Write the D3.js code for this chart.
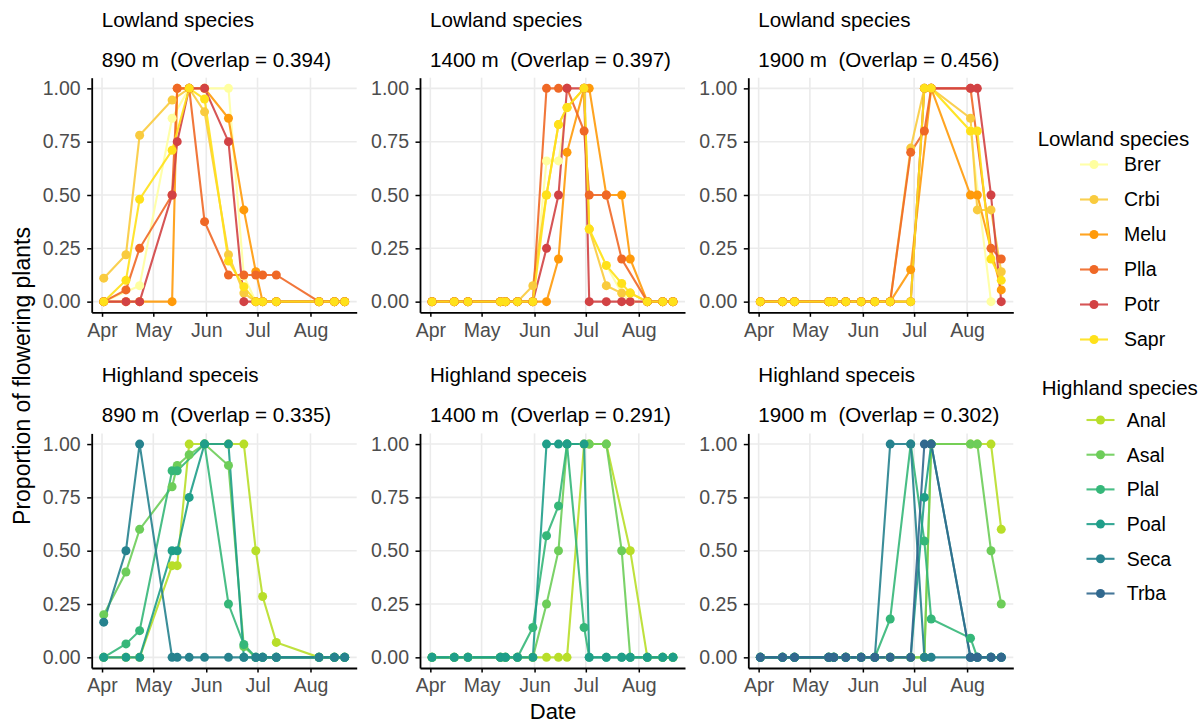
<!DOCTYPE html>
<html>
<head>
<meta charset="utf-8">
<script src="https://cdn.jsdelivr.net/npm/d3@7"></script>
<style>
  body { margin: 0; background: #fff; }
  svg { font-family: "Liberation Sans", Arial, sans-serif; }
</style>
</head>
<body>
<div id="chart"></div>
<script>
// Sampling dates per elevation (month-day)
const year = 2020;
const dates890 = ['04-02', '04-15', '04-23', '05-12', '05-15', '05-22', '05-31', '06-14', '06-23', '06-30', '07-04', '07-12', '08-06', '08-15', '08-21'];
const dates1400 = ['04-02', '04-15', '04-23', '05-12', '05-15', '05-22', '05-31', '06-08', '06-15', '06-20', '06-30', '07-03', '07-13', '07-22', '07-27', '08-06', '08-15', '08-21'];
const dates1900 = ['04-02', '04-15', '04-22', '05-12', '05-15', '05-22', '05-31', '06-08', '06-17', '06-29', '07-07', '07-11', '08-03', '08-07', '08-15', '08-21'];

const lowSpecies = ['Brer', 'Crbi', 'Melu', 'Plla', 'Potr', 'Sapr'];
const lowColors = ['#FFFFA0', '#F9CB3E', '#FF9A0A', '#EF6826', '#D24244', '#FFE11A'];
const highSpecies = ['Anal', 'Asal', 'Plal', 'Poal', 'Seca', 'Trba'];
const highColors = ['#B8DE29', '#6DCD59', '#35B779', '#1F9E89', '#26828E', '#31688E'];

// Proportion of flowering plants, aligned with the dates above (null = not sampled)
const low890 = {
  Brer: [0, null, 0.075, 0.86, null, 1, 1, 1, 0.12, 0, 0, 0, 0, 0, 0],
  Crbi: [0.11, 0.22, 0.78, 0.945, null, 1, 0.89, 0.22, 0.04, 0, 0, 0, 0, 0, 0],
  Melu: [0, 0, 0, 0, 1, 1, 1, 0.86, 0.43, 0.14, 0, 0, 0, 0, 0],
  Plla: [0, 0.055, 0.25, 0.5, 1, 1, 0.375, 0.125, 0.125, 0.125, 0.125, 0.125, 0, 0, 0],
  Potr: [0, 0, 0, 0.5, 0.75, 1, 1, 0.75, 0, 0, 0, 0, 0, 0, 0],
  Sapr: [0, 0.1, 0.48, 0.71, null, 1, 0.95, 0.19, 0.07, 0, 0, 0, 0, 0, 0]
};
const low1400 = {
  Brer: [0, 0, 0, 0, 0, 0, 0, 0.66, 0.66, 0.91, 1, 0.34, 0.17, 0.04, 0, 0, 0, 0],
  Crbi: [0, 0, 0, 0, 0, 0, 0.075, 0.5, 0.83, 0.91, 1, 0.34, 0.075, 0.04, 0.04, 0, 0, 0],
  Melu: [0, 0, 0, 0, 0, 0, 0, 0, 0.2, 0.7, 1, 1, 0.5, 0.5, 0.2, 0, 0, 0],
  Plla: [0, 0, 0, 0, 0, 0, 0, 1, 1, 1, 0.8, 0.5, 0.5, 0.2, null, 0, 0, 0],
  Potr: [0, 0, 0, 0, 0, 0, 0, 0.25, 0.5, 1, 1, 0, 0, 0, 0, 0, 0, 0],
  Sapr: [0, 0, 0, 0, 0, 0, 0, 0.5, 0.83, 0.91, 1, 0.34, 0.17, 0.085, 0.04, 0, 0, 0]
};
const low1900 = {
  Brer: [0, 0, 0, 0, 0, 0, 0, 0, 0, 0, 1, 1, 0.8, null, 0, null],
  Crbi: [0, 0, 0, 0, 0, 0, 0, 0, 0, 0.72, 1, 1, 0.86, 0.43, 0.43, 0.14],
  Melu: [0, 0, 0, 0, 0, 0, 0, 0, 0, 0.15, null, 1, 0.5, 0.5, null, 0.055],
  Plla: [0, 0, 0, 0, 0, 0, 0, 0, 0, 0.7, 0.8, 1, 1, null, 0.25, 0.2],
  Potr: [0, 0, 0, 0, 0, 0, 0, 0, 0, 0, 1, 1, 1, 1, 0.5, 0],
  Sapr: [0, 0, 0, 0, 0, 0, 0, 0, 0, 0, 1, 1, 0.8, 0.8, 0.2, 0.1]
};
const high890 = {
  Anal: [0, 0, 0, 0.43, 0.43, 1, 1, 1, 1, 0.5, 0.285, 0.07, 0, 0, 0],
  Asal: [0.2, 0.4, 0.6, 0.8, 0.9, 0.95, 1, 0.9, 0.05, 0, 0, 0, 0, 0, 0],
  Plal: [0, 0.063, 0.125, 0.875, 0.875, null, 1, 0.25, 0.06, 0, 0, 0, 0, 0, 0],
  Poal: [0, 0, 0, 0.5, 0.5, 0.75, 1, 1, 0, 0, 0, 0, 0, 0, 0],
  Seca: [0.165, 0.5, 1, 0, 0, 0, 0, 0, 0, 0, 0, 0, 0, 0, 0]
};
const high1400 = {
  Anal: [0, 0, 0, 0, 0, 0, 0, 0, 0, 0, 1, 1, 1, null, 0.5, 0, 0, 0],
  Asal: [0, 0, 0, 0, 0, 0, 0, 0.25, 0.5, 1, null, 1, 1, 0.5, 0, 0, 0, 0],
  Plal: [0, 0, 0, 0, 0, 0, 0.14, 0.57, 0.71, 1, 0.14, 0, 0, 0, 0, 0, 0, 0],
  Poal: [0, 0, 0, 0, 0, 0, 0, 1, 1, 1, 1, 0, 0, 0, 0, 0, 0, 0]
};
const high1900 = {
  Anal: [0, 0, 0, 0, 0, 0, 0, 0, 0, 0, 0, 1, 1, 1, 1, 0.6],
  Asal: [0, 0, 0, 0, 0, 0, 0, 0, 0, 0, 0, 1, 1, 1, 0.5, 0.25],
  Plal: [0, 0, 0, 0, 0, 0, 0, 0, 0.18, 1, 0.545, 0.18, 0.09, 0, 0, 0],
  Poal: [0, 0, 0, 0, 0, 0, 0, 0, 0, 0, 0.75, 1, 0, 0, 0, 0],
  Seca: [0, 0, 0, 0, 0, 0, 0, 0, 1, 1, 0, 0, 0, 0, 0, 0],
  Trba: [0, 0, 0, 0, 0, 0, 0, 0, 0, 0, 1, 1, 0, 0, 0, 0]
};

const panels = [
  { row: 0, col: 0, title: 'Lowland species', sub: '890 m  (Overlap = 0.394)', dates: dates890, series: low890, species: lowSpecies, colors: lowColors },
  { row: 0, col: 1, title: 'Lowland species', sub: '1400 m  (Overlap = 0.397)', dates: dates1400, series: low1400, species: lowSpecies, colors: lowColors },
  { row: 0, col: 2, title: 'Lowland species', sub: '1900 m  (Overlap = 0.456)', dates: dates1900, series: low1900, species: lowSpecies, colors: lowColors },
  { row: 1, col: 0, title: 'Highland speceis', sub: '890 m  (Overlap = 0.335)', dates: dates890, series: high890, species: highSpecies, colors: highColors },
  { row: 1, col: 1, title: 'Highland speceis', sub: '1400 m  (Overlap = 0.291)', dates: dates1400, series: high1400, species: highSpecies, colors: highColors },
  { row: 1, col: 2, title: 'Highland speceis', sub: '1900 m  (Overlap = 0.302)', dates: dates1900, series: high1900, species: highSpecies, colors: highColors }
];

// Layout
const width = 1204;
const height = 726;
const panelLeft = [91.7, 420, 748.3];
const panelTop = [77.7, 433.4];
const panelW = 265;
const panelH = 234.6;

const parseDate = d3.timeParse('%Y-%m-%d');
const toDate = (s) => parseDate(`${year}-${s}`);

// Shared scales (ggplot-style 5% expansion)
const allDates = [...dates890, ...dates1400, ...dates1900].map(toDate);
const [minD, maxD] = d3.extent(allDates);
const pad = (maxD - minD) * 0.05;
const x = d3.scaleTime()
  .domain([new Date(+minD - pad), new Date(+maxD + pad)])
  .range([0, panelW]);
const y = d3.scaleLinear()
  .domain([-0.05, 1.05])
  .range([panelH, 0]);
const monthTicks = d3.timeMonth.range(new Date(year, 3, 1), new Date(year, 8, 1));
const yTicks = [0, 0.25, 0.5, 0.75, 1];

const svg = d3.select('#chart')
  .append('svg')
  .attr('width', width)
  .attr('height', height);

svg.append('rect')
  .attr('width', width)
  .attr('height', height)
  .attr('fill', '#fff');

const drawPanel = (p) => {
  const left = panelLeft[p.col];
  const top = panelTop[p.row];
  const g = svg.append('g').attr('transform', `translate(${left},${top})`);

  // Titles
  svg.append('text')
    .attr('x', left + 10)
    .attr('y', top - 51)
    .style('font-size', '20.6px')
    .attr('fill', '#000')
    .text(p.title);
  svg.append('text')
    .attr('x', left + 10)
    .attr('y', top - 11)
    .style('font-size', '20.6px')
    .style('white-space', 'pre')
    .attr('fill', '#000')
    .text(p.sub);

  // Grid
  g.selectAll('line.vgrid')
    .data(monthTicks)
    .enter()
    .append('line')
    .attr('class', 'vgrid')
    .attr('x1', (d) => x(d))
    .attr('x2', (d) => x(d))
    .attr('y1', 0)
    .attr('y2', panelH)
    .attr('stroke', '#EBEBEB')
    .attr('stroke-width', 1.6);
  g.selectAll('line.hgrid')
    .data(yTicks)
    .enter()
    .append('line')
    .attr('class', 'hgrid')
    .attr('x1', 0)
    .attr('x2', panelW)
    .attr('y1', (d) => y(d))
    .attr('y2', (d) => y(d))
    .attr('stroke', '#EBEBEB')
    .attr('stroke-width', 1.6);

  // Data
  const dates = p.dates.map(toDate);
  const groups = p.species
    .map((sp, i) => ({
      sp,
      color: p.colors[i],
      pts: (p.series[sp] || [])
        .map((v, j) => ({ date: dates[j], v }))
        .filter((d) => d.v !== null && d.v !== undefined)
    }))
    .filter((s) => s.pts.length > 0);

  const line = d3.line()
    .x((d) => x(d.date))
    .y((d) => y(d.v));

  // lines first, then points on top (like geom_line + geom_point)
  groups.forEach((s) => {
    g.append('path')
      .datum(s.pts)
      .attr('fill', 'none')
      .attr('stroke', s.color)
      .attr('stroke-opacity', 0.9)
      .attr('stroke-width', 2.1)
      .attr('d', line);
  });

  groups.forEach((s) => {
    g.selectAll(null)
      .data(s.pts)
      .enter()
      .append('circle')
      .attr('cx', (d) => x(d.date))
      .attr('cy', (d) => y(d.v))
      .attr('r', 4.5)
      .attr('fill', s.color);
  });

  // Axes
  const xAxis = g.append('g')
    .attr('transform', `translate(0,${panelH})`)
    .call(d3.axisBottom(x)
      .tickValues(monthTicks)
      .tickFormat(d3.timeFormat('%b'))
      .tickSize(4.5)
      .tickSizeOuter(0)
      .tickPadding(6));
  const yAxis = g.append('g')
    .call(d3.axisLeft(y)
      .tickValues(yTicks)
      .tickFormat(d3.format('.2f'))
      .tickSize(4.5)
      .tickSizeOuter(0)
      .tickPadding(6.5));

  [xAxis, yAxis].forEach((ax) => {
    ax.select('.domain').attr('stroke', '#000').attr('stroke-width', 1.8);
    ax.selectAll('.tick line').attr('stroke', '#000').attr('stroke-width', 1.5);
    ax.selectAll('.tick text')
      .attr('fill', '#4D4D4D')
      .style('font-size', '19.5px')
      .style('font-family', '"Liberation Sans", Arial, sans-serif');
  });
};

panels.forEach(drawPanel);

// Axis titles
svg.append('text')
  .attr('transform', 'translate(30,376) rotate(-90)')
  .attr('text-anchor', 'middle')
  .style('font-size', '23px')
  .text('Proportion of flowering plants');

svg.append('text')
  .attr('x', 553)
  .attr('y', 719)
  .attr('text-anchor', 'middle')
  .style('font-size', '22px')
  .text('Date');

// Legends
const drawLegend = (title, names, colors, opts) => {
  svg.append('text')
    .attr('x', opts.titleX)
    .attr('y', opts.titleY)
    .style('font-size', '20.5px')
    .text(title);

  names.forEach((name, i) => {
    const cy = opts.startY + i * opts.step;
    svg.append('line')
      .attr('x1', opts.keyX - 14)
      .attr('x2', opts.keyX + 14)
      .attr('y1', cy)
      .attr('y2', cy)
      .attr('stroke', colors[i])
      .attr('stroke-opacity', 0.9)
      .attr('stroke-width', 2.1);
    svg.append('circle')
      .attr('cx', opts.keyX)
      .attr('cy', cy)
      .attr('r', 4.5)
      .attr('fill', colors[i]);
    svg.append('text')
      .attr('x', opts.labelX)
      .attr('y', cy)
      .attr('dy', '0.35em')
      .style('font-size', '19.5px')
      .text(name);
  });
};

drawLegend('Lowland species', lowSpecies, lowColors,
  { titleX: 1037.7, titleY: 145.5, startY: 164.5, step: 35, keyX: 1094, labelX: 1124 });
drawLegend('Highland species', highSpecies, highColors,
  { titleX: 1041.7, titleY: 395, startY: 420, step: 34.7, keyX: 1100.5, labelX: 1126.7 });
</script>
</body>
</html>
